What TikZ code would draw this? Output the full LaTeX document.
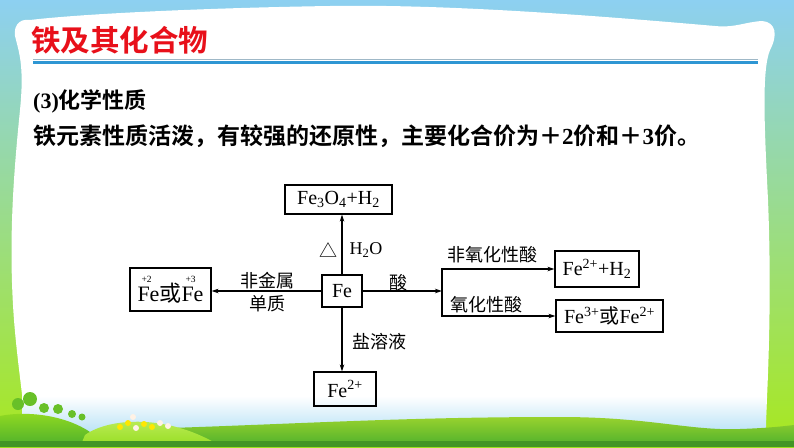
\documentclass[tikz,border=0pt]{standalone}
\usepackage{fontspec}
\setmainfont{Liberation Serif}
\newfontfamily\cjk{Noto Sans CJK SC}[BoldFont={Noto Sans CJK SC Bold}]
\usetikzlibrary{arrows.meta}
\definecolor{titlered}{HTML}{E8101A}
\definecolor{blueline}{HTML}{2E96D3}
\definecolor{skyblue}{HTML}{8DD0F1}
\definecolor{midteal}{HTML}{96D8C0}
\definecolor{lgreen}{HTML}{A8E81E}
\definecolor{ground}{HTML}{4CAF2C}
\definecolor{groundtop}{HTML}{98D22E}
\newcommand\vfe[1]{\rlap{\raisebox{19.5pt}{\hspace{4pt}\fontsize{9.5}{9.5}\selectfont #1}}Fe}
\tikzset{
  box/.style={draw, line width=1.2pt, inner sep=0pt, font=\fontsize{20}{20}\selectfont},
  arr/.style={line width=1.2pt, -{Stealth[length=7pt,width=4.5pt]}},
  lbl/.style={inner sep=0pt, font=\cjk\fontsize{18}{18}\selectfont},
}
\begin{document}
\begin{tikzpicture}[x=1pt,y=-1pt]
\useasboundingbox (0,0) rectangle (794,447);
% background
\shade[top color=skyblue, middle color=midteal, bottom color=lgreen] (0,0) rectangle (794,447);
% white panel
\fill[white] (30,20) .. controls (18,18) and (12,28) .. (16,40)
  .. controls (20,55) and (24,70) .. (20,110)
  .. controls (14,170) and (8,240) .. (14,320)
  .. controls (18,370) and (24,400) .. (26,440)
  -- (765,440)
  .. controls (768,380) and (772,300) .. (768,200)
  .. controls (764,120) and (762,70) .. (770,50)
  .. controls (778,35) and (776,22) .. (762,21)
  .. controls (745,22) and (735,28) .. (715,26)
  .. controls (600,16) and (450,4) .. (330,6)
  .. controls (200,8) and (80,14) .. (30,20) -- cycle;
\shade[top color=white, bottom color=skyblue!60] (22,396) rectangle (766,432);
% hills
\shade[top color=groundtop, bottom color=ground] (140,447) -- (140,429)
  .. controls (300,424) and (400,417) .. (560,417)
  .. controls (650,417) and (690,431) .. (740,429)
  .. controls (770,428) and (785,426) .. (794,425) -- (794,447) -- cycle;
\shade[top color=lgreen!80!ground, bottom color=ground] (0,447) -- (0,416)
  .. controls (30,410) and (75,416) .. (100,440) -- (100,447) -- cycle;
\shade[top color=lgreen!70!white, bottom color=lgreen!80!ground] (80,447) -- (85,435)
  .. controls (110,417) and (170,414) .. (222,447) -- cycle;
\fill[ground!85!black] (0,441) rectangle (794,447);
% trees
\foreach \x/\y/\r in {18/404/6, 30/399/7, 44/408/5, 58/409/5, 72/414/4, 82/417/3.5}
  \fill[ground!70!lgreen] (\x,\y) circle (\r);
% flowers
\foreach \x/\y/\c in {120/427/yellow, 128/423/yellow, 136/428/white, 144/424/yellow, 152/427/yellow, 160/423/white, 168/426/white, 133/417/white}
  \fill[\c!90!orange] (\x,\y) circle (3);
% title
\node[anchor=west, inner sep=0pt, text=titlered, font=\cjk\bfseries\fontsize{29.5}{29.5}\selectfont] (title) at (31,40) {铁及其化合物};
\draw[line width=0.8pt, blueline!40!gray!60] (33,59.5) -- (758,59.5);
\draw[line width=3pt, blueline] (33,62.5) -- (758,62.5);
% texts
\node[anchor=west, inner sep=0pt, font=\fontsize{22}{22}\selectfont] (head) at (33,101) {\textbf{(3)}{\cjk\bfseries 化学性质}};
\node[anchor=west, inner sep=0pt, font=\fontsize{23}{23}\selectfont] (line) at (33,136)
  {{\cjk\bfseries 铁元素性质活泼，有较强的还原性，主要化合价为＋}\textbf{2}{\cjk\bfseries 价和＋}\textbf{3}{\cjk\bfseries 价。}};
% diagram
\node[box, minimum width=40pt, minimum height=32pt] (fe) at (342,291) {Fe};
\node[box, minimum width=107pt, minimum height=29pt] (top) at (338.5,199.5) {Fe\textsubscript{3}O\textsubscript{4}+H\textsubscript{2}};
\node[box, minimum width=81pt, minimum height=43pt, font=\fontsize{22}{22}\selectfont] (left) at (170.5,289.5) {\vfe{+2}{\cjk 或}\vfe{+3}};
\node[box, minimum width=62pt, minimum height=34pt] (bot) at (345,389) {Fe\textsuperscript{2+}};
\node[box, minimum width=84pt, minimum height=36pt] (r1) at (597,269) {Fe\textsuperscript{2+}+H\textsubscript{2}};
\node[box, minimum width=107pt, minimum height=32pt] (r2) at (609.5,316) {Fe\textsuperscript{3+}{\cjk 或}Fe\textsuperscript{2+}};
\coordinate (j) at (442,291);
\draw[arr] (fe.north) -- (fe.north |- top.south);
\draw[arr] (fe.west) -- (fe.west -| left.east);
\draw[arr] (fe.south) -- (fe.south |- bot.north);
\draw[arr] (fe.east) -- (j);
\draw[arr] (j) |- (r1.west);
\draw[arr] (j) |- (r2.west);
% labels
\node[lbl] (tri) at (328,250) {△};
\node[inner sep=0pt, font=\fontsize{18}{18}\selectfont] (h2o) at (366,250) {H\textsubscript{2}O};
\node[lbl] (fjs) at (267,281) {非金属};
\node[lbl] (dz) at (267,304) {单质};
\node[lbl] (suan) at (398,283) {酸};
\node[lbl] (fyh) at (492,255) {非氧化性酸};
\node[lbl] (yh) at (486,305) {氧化性酸};
\node[lbl] (yry) at (379,342) {盐溶液};
\end{tikzpicture}
\end{document}
